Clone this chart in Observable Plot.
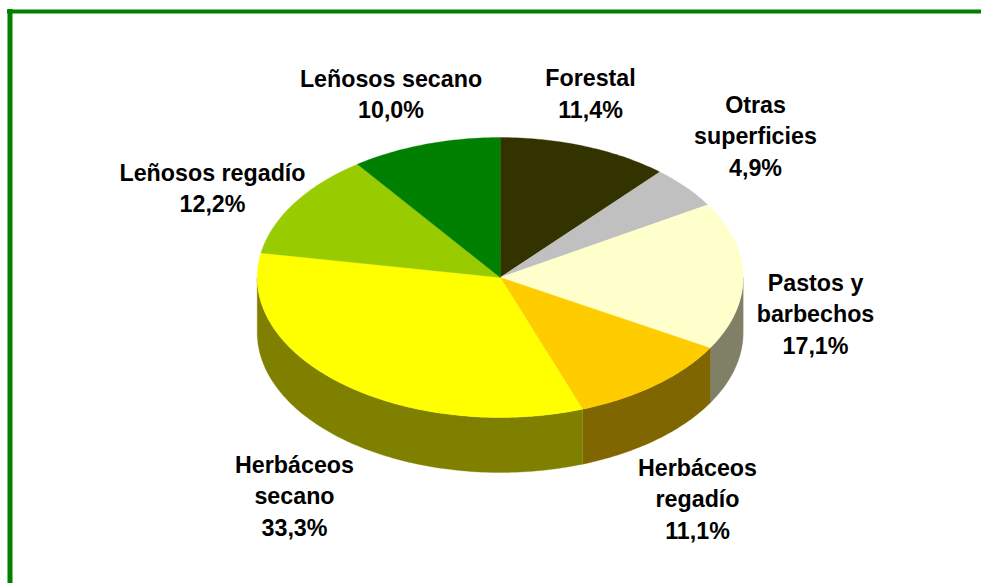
<!DOCTYPE html>
<html lang="es">
<head>
<meta charset="utf-8">
<style>
html,body{margin:0;padding:0;background:#fff;overflow:hidden}
svg{display:block}
</style>
<script src="https://cdn.jsdelivr.net/npm/d3@7"></script>
<script src="https://cdn.jsdelivr.net/npm/@observablehq/plot@0.6"></script>
</head>
<body>
<script>
// Data, clockwise from 12 o'clock
const categories = ["Forestal", "Otras\nsuperficies", "Pastos y\nbarbechos", "Herbáceos\nregadío", "Herbáceos\nsecano", "Leñosos regadío", "Leñosos secano"];
const shares = [11.4, 4.9, 17.1, 11.1, 33.3, 12.2, 10.0];
const topColors = ["#333300", "#c0c0c0", "#ffffcc", "#ffcc00", "#ffff00", "#99cc00", "#008000"];
const sideColors = ["#1a1a00", "#606060", "#808066", "#806600", "#808000", "#4d6600", "#004000"];

// Label layout (plot pixels), kept apart from the data
const labelX = [590, 755, 815, 697, 294, 212, 390.5];
const labelY = [91.5, 134, 312, 497, 494, 186, 92];

// Pie geometry
const cx = 499.7, cy = 277, rx = 243, ry = 140, depth = 55;

const total = d3.sum(shares);
let cumulative = 0;
const slices = shares.map((v, i) => {
  const start = cumulative / total * 360;
  cumulative += v;
  return {i, start, end: cumulative / total * 360};
});
const rim = (deg, drop = 0) => {
  const a = deg * Math.PI / 180;
  return {x: cx + rx * Math.sin(a), y: cy - ry * Math.cos(a) + drop};
};
const arc = (a, b) => {
  const out = [];
  const n = Math.max(2, Math.ceil(b - a));
  for (let k = 0; k <= n; k++) out.push(a + (b - a) * k / n);
  return out;
};

const topPoints = slices.flatMap(s => [
  {id: s.i, color: topColors[s.i], x: cx, y: cy},
  ...arc(s.start, s.end).map(t => ({id: s.i, color: topColors[s.i], ...rim(t)}))
]);
const sidePoints = slices.flatMap(s => {
  const a = Math.max(s.start, 90), b = Math.min(s.end, 270);
  if (b <= a) return [];
  const ts = arc(a, b);
  return [
    ...ts.map(t => ({id: s.i, color: sideColors[s.i], ...rim(t)})),
    ...ts.slice().reverse().map(t => ({id: s.i, color: sideColors[s.i], ...rim(t, depth)}))
  ];
});
const labels = categories.map((c, i) => ({
  text: `${c}\n${shares[i].toFixed(1).replace(".", ",")}%`,
  x: labelX[i], y: labelY[i]
}));

const borderColor = "#008000";
const chart = Plot.plot({
  width: 981, height: 583,
  margin: 0,
  x: {domain: [0, 981], range: [0, 981], axis: null},
  y: {domain: [0, 583], range: [0, 583], axis: null},
  color: {type: "identity"},
  style: {background: "#fff"},
  marks: [
    Plot.ruleX([9.5], {y1: 9, y2: 583, stroke: borderColor, strokeWidth: 5}),
    Plot.ruleY([11], {x1: 7, x2: 981, stroke: borderColor, strokeWidth: 4}),
    Plot.line(sidePoints, {x: "x", y: "y", z: "id", fill: "color", stroke: "color", strokeWidth: 0.3, curve: "linear-closed"}),
    Plot.line(topPoints, {x: "x", y: "y", z: "id", fill: "color", stroke: "color", strokeWidth: 0.3, curve: "linear-closed"}),
    Plot.text(labels, {
      x: "x", y: "y", text: "text",
      fontFamily: "'Liberation Sans', Arial, sans-serif",
      fontWeight: "bold", fontSize: 23.25, lineHeight: 1.34,
      fill: "#000", textAnchor: "middle", lineAnchor: "middle"
    })
  ]
});
document.body.appendChild(chart);
</script>
</body>
</html>
